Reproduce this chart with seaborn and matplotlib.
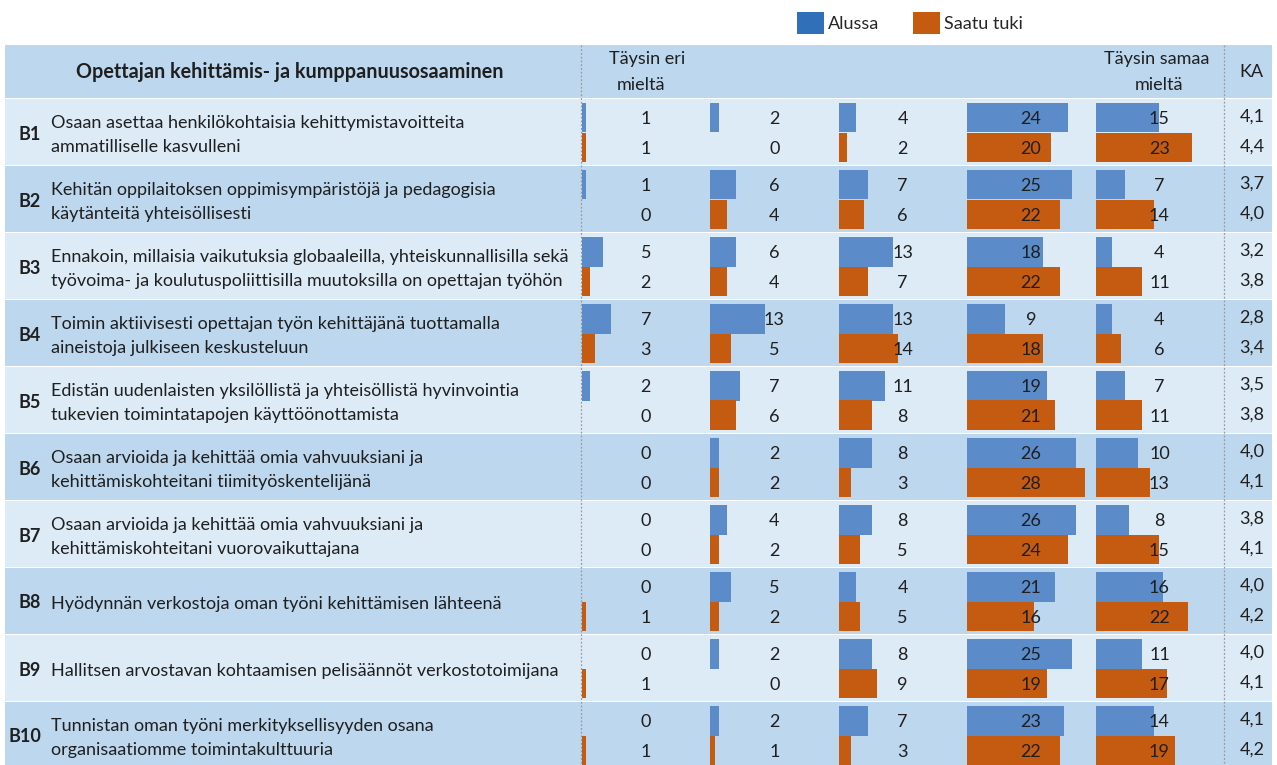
import matplotlib
matplotlib.use("Agg")
import matplotlib.pyplot as plt
from matplotlib.patches import Patch
import pandas as pd
import seaborn as sns

sns.set_theme(style="white")
plt.rcParams["font.family"] = ["Lato", "DejaVu Sans"]

# --- data -------------------------------------------------------------
ITEM_CODES = ["B1", "B2", "B3", "B4", "B5", "B6", "B7", "B8", "B9", "B10"]
ITEM_TEXTS = [
    "Osaan asettaa henkilökohtaisia kehittymistavoitteita\nammatilliselle kasvulleni",
    "Kehitän oppilaitoksen oppimisympäristöjä ja pedagogisia\nkäytänteitä yhteisöllisesti",
    "Ennakoin, millaisia vaikutuksia globaaleilla, yhteiskunnallisilla sekä\n"
    "työvoima- ja koulutuspoliittisilla muutoksilla on opettajan työhön",
    "Toimin aktiivisesti opettajan työn kehittäjänä tuottamalla\naineistoja julkiseen keskusteluun",
    "Edistän uudenlaisten yksilöllistä ja yhteisöllistä hyvinvointia\ntukevien toimintatapojen käyttöönottamista",
    "Osaan arvioida ja kehittää omia vahvuuksiani ja\nkehittämiskohteitani tiimityöskentelijänä",
    "Osaan arvioida ja kehittää omia vahvuuksiani ja\nkehittämiskohteitani vuorovaikuttajana",
    "Hyödynnän verkostoja oman työni kehittämisen lähteenä",
    "Hallitsen arvostavan kohtaamisen pelisäännöt verkostotoimijana",
    "Tunnistan oman työni merkityksellisyyden osana\norganisaatiomme toimintakulttuuria",
]
GROUPS = ["Alussa", "Saatu tuki"]
STEPS = [1, 2, 3, 4, 5]  # 1 = täysin eri mieltä ... 5 = täysin samaa mieltä

ALUSSA = [
    [1, 2, 4, 24, 15],
    [1, 6, 7, 25, 7],
    [5, 6, 13, 18, 4],
    [7, 13, 13, 9, 4],
    [2, 7, 11, 19, 7],
    [0, 2, 8, 26, 10],
    [0, 4, 8, 26, 8],
    [0, 5, 4, 21, 16],
    [0, 2, 8, 25, 11],
    [0, 2, 7, 23, 14],
]
SAATU = [
    [1, 0, 2, 20, 23],
    [0, 4, 6, 22, 14],
    [2, 4, 7, 22, 11],
    [3, 5, 14, 18, 6],
    [0, 6, 8, 21, 11],
    [0, 2, 3, 28, 13],
    [0, 2, 5, 24, 15],
    [1, 2, 5, 16, 22],
    [1, 0, 9, 19, 17],
    [1, 1, 3, 22, 19],
]
KA_ALUSSA = [4.1, 3.7, 3.2, 2.8, 3.5, 4.0, 3.8, 4.0, 4.0, 4.1]
KA_SAATU = [4.4, 4.0, 3.8, 3.4, 3.8, 4.1, 4.1, 4.2, 4.1, 4.2]

# --- styles -----------------------------------------------------------
BAR_COLORS = {"Alussa": "#5b8bc8", "Saatu tuki": "#c55a11"}
LEGEND_COLORS = {"Alussa": "#2f70b8", "Saatu tuki": "#c55a11"}
BAND_LIGHT = "#ddebf7"
BAND_DARK = "#bdd7ee"
TXT = "#1f1f1f"
W, H = 1277, 765
ROW_TOP, ROW_H = 99, 67
COL_X0, COL_W = 582, 128.4
PX_PER_UNIT = 4.2
FS = 13

rows = []
for code, a_vals, s_vals in zip(ITEM_CODES, ALUSSA, SAATU):
    for step, a, s in zip(STEPS, a_vals, s_vals):
        rows.append({"item": code, "group": "Alussa", "step": step, "count": a})
        rows.append({"item": code, "group": "Saatu tuki", "step": step, "count": s})
df = pd.DataFrame(rows)


def px_rect(x0, y0, w, h):
    return [x0 / W, 1 - (y0 + h) / H, w / W, h / H]


fig = plt.figure(figsize=(W / 100, H / 100), dpi=100)
fig.patch.set_facecolor("white")

# background: bands, header and item texts
bg = fig.add_axes([0, 0, 1, 1])
bg.set_xlim(0, W)
bg.set_ylim(H, 0)
bg.axis("off")

bg.add_patch(plt.Rectangle((5, 45), 1267, ROW_TOP - 45 - 1, color=BAND_DARK, lw=0))
for i in range(len(ITEM_CODES)):
    color = BAND_LIGHT if i % 2 == 0 else BAND_DARK
    bg.add_patch(plt.Rectangle((5, ROW_TOP + i * ROW_H), 1267, ROW_H - 1.5, color=color, lw=0))

bg.text(290, 72, "Opettajan kehittämis- ja kumppanuusosaaminen", ha="center", va="center",
        fontsize=14.2, fontweight="bold", color=TXT)
bg.text(647, 59, "Täysin eri", ha="center", va="center", fontsize=FS, color=TXT)
bg.text(641, 85, "mieltä", ha="center", va="center", fontsize=FS, color=TXT)
bg.text(1157, 59, "Täysin samaa", ha="center", va="center", fontsize=FS, color=TXT)
bg.text(1159, 85, "mieltä", ha="center", va="center", fontsize=FS, color=TXT)
bg.text(1251, 72, "KA", ha="center", va="center", fontsize=FS, color=TXT)

for x in (581, 1224):
    bg.plot([x, x], [45, H], color="#9a9a9a", lw=0.9, ls=(0, (1.5, 1.5)))

for i, (code, text) in enumerate(zip(ITEM_CODES, ITEM_TEXTS)):
    y0 = ROW_TOP + i * ROW_H
    bg.text(41, y0 + 35, code, ha="right", va="center", fontsize=FS, fontweight="bold", color=TXT)
    bg.text(51, y0 + 36, text, ha="left", va="center", fontsize=FS, color=TXT, linespacing=1.62)

# KA column
for i in range(len(ITEM_CODES)):
    y0 = ROW_TOP + i * ROW_H
    bg.text(1252, y0 + 18, f"{KA_ALUSSA[i]:.1f}".replace(".", ","), ha="center", va="center",
            fontsize=FS, color=TXT)
    bg.text(1252, y0 + 48, f"{KA_SAATU[i]:.1f}".replace(".", ","), ha="center", va="center",
            fontsize=FS, color=TXT)

# one small bar axes per answer step
xmax = COL_W / PX_PER_UNIT
for k, step in enumerate(STEPS):
    ax = fig.add_axes(px_rect(COL_X0 + k * COL_W, ROW_TOP, COL_W, len(ITEM_CODES) * ROW_H))
    sub = df[df["step"] == step]
    sns.barplot(data=sub, x="count", y="item", hue="group", order=ITEM_CODES, hue_order=GROUPS,
                palette=BAR_COLORS, orient="h", width=0.88, saturation=1, errorbar=None,
                linewidth=0, legend=False, ax=ax)
    ax.set_xlim(0, xmax)
    ax.set_ylim(len(ITEM_CODES) - 0.5, -0.5)
    ax.set_facecolor("none")
    ax.axis("off")
    for i, code in enumerate(ITEM_CODES):
        for j, grp in enumerate(GROUPS):
            val = sub[(sub["item"] == code) & (sub["group"] == grp)]["count"].iloc[0]
            ax.text(15.2, i + (j - 0.5) * 0.44 + 0.02, str(val), ha="center", va="center",
                    fontsize=FS, color=TXT)

handles = [Patch(facecolor=LEGEND_COLORS[g], edgecolor="none", label=g) for g in GROUPS]
fig.legend(handles=handles, loc="center", bbox_to_anchor=(910 / W, 1 - 23 / H), ncol=2,
           frameon=False, fontsize=FS, handlelength=1.5, handleheight=1.55, handletextpad=0.2,
           columnspacing=1.9)

fig.savefig("out.png", dpi=100)
plt.close(fig)
